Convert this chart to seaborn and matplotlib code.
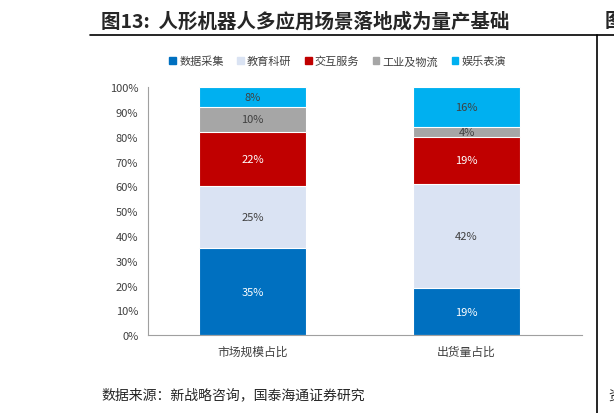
import numpy as np
import pandas as pd
import seaborn as sns
import matplotlib.pyplot as plt
from matplotlib.lines import Line2D
from matplotlib.patches import Patch

categories = ['市场规模占比', '出货量占比']
series = ['数据采集', '教育科研', '交互服务', '工业及物流', '娱乐表演']
values = {
    '数据采集': [35, 19],
    '教育科研': [25, 42],
    '交互服务': [22, 19],
    '工业及物流': [10, 4],
    '娱乐表演': [8, 16],
}
colors = ['#0070C0', '#DAE3F3', '#C00000', '#A6A6A6', '#00B0F0']
label_colors = ['white', '#404040', 'white', '#404040', '#404040']

sns.set_style('white')
plt.rcParams['font.family'] = ['Noto Sans CJK SC', 'DejaVu Sans']

fig = plt.figure(figsize=(6.14, 4.14), dpi=100)
ax = fig.add_axes([0.241, 0.188, 0.707, 0.599])

cum = np.cumsum([values[s] for s in series], axis=0)
# draw cumulative totals from the top down so each segment shows
for i in range(len(series) - 1, -1, -1):
    df = pd.DataFrame({'cat': categories, 'val': cum[i]})
    sns.barplot(data=df, x='cat', y='val', color=colors[i], width=0.5,
                edgecolor='white', linewidth=0.8, saturation=1, ax=ax)

for i, s in enumerate(series):
    for j in range(len(categories)):
        v = values[s][j]
        ax.text(j, cum[i][j] - v / 2, f'{v}%', ha='center', va='center',
                fontsize=8, color=label_colors[i])

ax.set_ylim(0, 100)
ax.set_xlim(-0.49, 1.54)
ax.set_yticks(range(0, 101, 10))
ax.set_yticklabels([f'{t}%' for t in range(0, 101, 10)], fontsize=8, color='#404040')
ax.tick_params(axis='x', labelsize=8.5, colors='#404040')
ax.set_xlabel('')
ax.set_ylabel('')
for sp in ['top', 'right']:
    ax.spines[sp].set_visible(False)
ax.spines['left'].set_color('#A0A0A0')
ax.spines['bottom'].set_color('#A0A0A0')
ax.set_axisbelow(True)

handles = [Patch(color=c) for c in colors]
fig.legend(handles, series, loc='center', bbox_to_anchor=(0.55, 0.85), ncol=5,
           frameon=False, fontsize=8, handlelength=0.6, handleheight=0.6,
           handletextpad=0.3, columnspacing=1.2, labelcolor='#404040')

fig.text(0.165, 0.948, '图13:  人形机器人多应用场景落地成为量产基础', fontsize=14,
         fontweight='bold', va='center')
fig.text(0.985, 0.948, '图', fontsize=14, fontweight='bold', va='center')
fig.add_artist(Line2D([0.147, 1.0], [0.912, 0.912], color='black', lw=1.2))
fig.add_artist(Line2D([0.973, 0.973], [0.0, 0.912], color='black', lw=1.2))
fig.text(0.165, 0.045, '数据来源：新战略咨询，国泰海通证券研究', fontsize=10, va='center')
fig.text(0.99, 0.045, '资', fontsize=10, va='center')

fig.savefig('out.png', dpi=100)
